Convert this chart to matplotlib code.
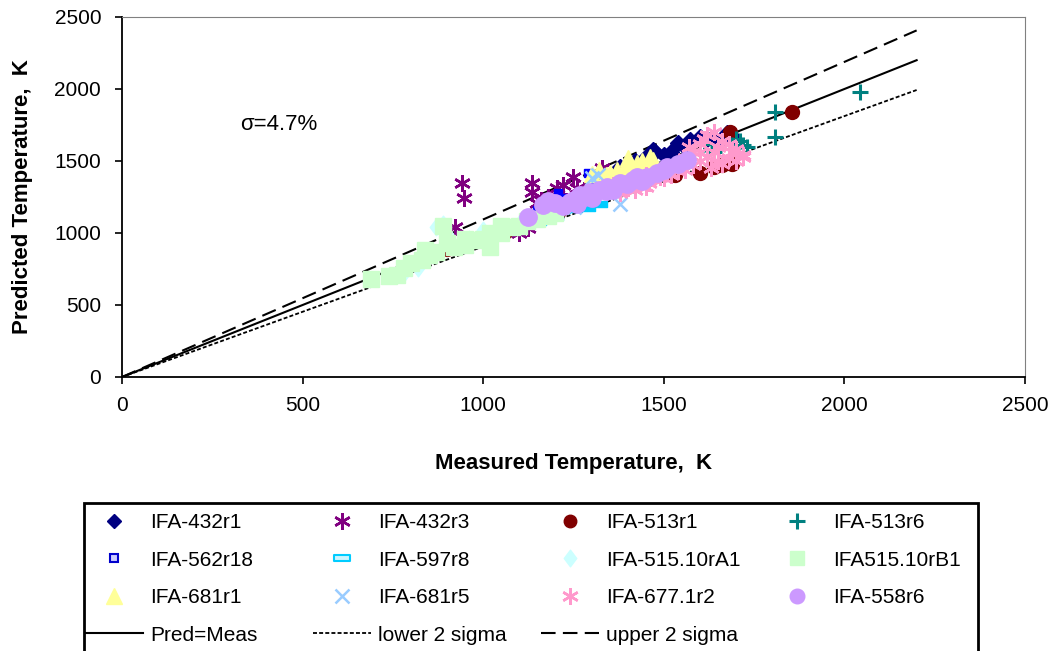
import matplotlib
matplotlib.use("Agg")
import matplotlib.pyplot as plt
from matplotlib.lines import Line2D
from matplotlib.patches import Rectangle
from matplotlib.path import Path

plt.rcParams['font.family'] = ['Liberation Sans', 'DejaVu Sans']

# ---------------- data (measured K, predicted K) ----------------
ifa432r1_x = [1380, 1420, 1450, 1470, 1476, 1500, 1520, 1539, 1560, 1573, 1600, 1620, 1640, 1660, 1675, 1692]
ifa432r1_y = [1460, 1500, 1530, 1576, 1560, 1540, 1560, 1625, 1600, 1646, 1667, 1650, 1660, 1650, 1694, 1667]

ifa432r3_x = [941, 947, 922, 1124, 1135, 1135, 1149, 1180, 1204, 1221, 1249, 1280, 1329, 1160, 1200, 1230, 1260, 1100]
ifa432r3_y = [1347, 1243, 1042, 1035, 1347, 1285, 1208, 1250, 1313, 1333, 1389, 1300, 1451, 1230, 1200, 1220, 1310, 1000]

ifa513r1_x = [900, 1060, 1210, 1300, 1420, 1530, 1600, 1640, 1660, 1690, 1683, 1855]
ifa513r1_y = [890, 1010, 1150, 1250, 1330, 1400, 1420, 1460, 1470, 1480, 1700, 1840]

ifa513r6_x = [1450, 1560, 1610, 1640, 1650, 1690, 1700, 1700, 1710, 1720, 1730, 1808, 1808, 2043]
ifa513r6_y = [1420, 1500, 1620, 1560, 1600, 1610, 1650, 1600, 1640, 1610, 1600, 1840, 1667, 1979]

ifa562r18_x = [1149, 1170, 1180, 1199, 1207, 1220, 1290, 1310]
ifa562r18_y = [1160, 1150, 1190, 1208, 1278, 1240, 1417, 1354]

ifa597r8_x = [1140, 1152, 1166, 1170, 1200, 1218, 1250, 1287, 1320]
ifa597r8_y = [1080, 1076, 1090, 1100, 1110, 1160, 1170, 1174, 1200]

ifa515rA1_x = [780, 820, 870, 889, 900, 960, 1000, 1060, 1100]
ifa515rA1_y = [720, 760, 1040, 1060, 990, 960, 1020, 1040, 1060]

ifa515rB1_x = [690, 740, 760, 780, 800, 830, 840, 850, 870, 889, 900, 920, 950, 950, 980,
               1000, 1020, 1020, 1050, 1050, 1080, 1100, 1120, 1150, 1180, 1200]
ifa515rB1_y = [680, 700, 710, 760, 790, 810, 880, 850, 870, 1049, 930, 900, 920, 960, 950,
               960, 1000, 900, 1000, 1050, 1040, 1050, 1080, 1100, 1120, 1140]

ifa681r1_x = [1300, 1320, 1340, 1351, 1370, 1390, 1410, 1426, 1440, 1462, 1470, 1400]
ifa681r1_y = [1410, 1440, 1400, 1420, 1437, 1450, 1470, 1486, 1500, 1528, 1510, 1520]

ifa681r5_x = [1250, 1300, 1318, 1380]
ifa681r5_y = [1180, 1380, 1403, 1200]

ifa677r2_x = [1360, 1380, 1380, 1400, 1400, 1420, 1420, 1430, 1440, 1450, 1450, 1460, 1460, 1480,
              1490, 1500, 1500, 1520, 1520, 1540, 1540, 1560, 1560, 1570, 1580, 1580, 1600, 1600,
              1600, 1610, 1620, 1620, 1630, 1640, 1640, 1650, 1650, 1660, 1660, 1680, 1680, 1690,
              1700, 1700, 1720, 1720]
ifa677r2_y = [1330, 1300, 1280, 1340, 1310, 1350, 1300, 1340, 1380, 1320, 1400, 1370, 1350, 1400,
              1390, 1380, 1440, 1420, 1400, 1430, 1480, 1440, 1520, 1600, 1470, 1560, 1500, 1560,
              1620, 1650, 1530, 1680, 1450, 1560, 1700, 1600, 1500, 1640, 1480, 1620, 1520, 1560,
              1580, 1500, 1540, 1530]

ifa558r6_x = [1124, 1166, 1180, 1200, 1220, 1240, 1250, 1260, 1268, 1280, 1296, 1300, 1320, 1340,
              1343, 1360, 1379, 1398, 1415, 1426, 1440, 1453, 1480, 1500, 1509, 1540, 1564]
ifa558r6_y = [1111, 1194, 1220, 1210, 1190, 1215, 1230, 1200, 1264, 1250, 1285, 1240, 1300, 1290,
              1319, 1300, 1347, 1340, 1368, 1389, 1360, 1389, 1420, 1440, 1458, 1480, 1507]

line_x = [0, 2200]
pred_meas_y = [0, 2200]
lower_y = [0, 1993]
upper_y = [0, 2407]

# ---------------- figure ----------------
W, H = 1055, 651
fig = plt.figure(figsize=(W/100, H/100), dpi=100)
ax = fig.add_axes([122/W, 1-377/H, (1025-122)/W, (377-17)/H])

rect_marker = Path([(-1, -0.45), (1, -0.45), (1, 0.45), (-1, 0.45), (-1, -0.45)],
                   [Path.MOVETO, Path.LINETO, Path.LINETO, Path.LINETO, Path.CLOSEPOLY])
tall_diamond = Path([(0, -1), (0.75, 0), (0, 1), (-0.75, 0), (0, -1)],
                    [Path.MOVETO, Path.LINETO, Path.LINETO, Path.LINETO, Path.CLOSEPOLY])
aster = (6, 2, 0)

series = [
    ("IFA-432r1", ifa432r1_x, ifa432r1_y, dict(marker='D', ms=8, color='#000080', mec='#000080')),
    ("IFA-432r3", ifa432r3_x, ifa432r3_y, dict(marker=aster, ms=12, color='#800080', mec='#800080', mew=1.8)),
    ("IFA-513r1", ifa513r1_x, ifa513r1_y, dict(marker='o', ms=10, color='#800000', mec='#800000')),
    ("IFA-513r6", ifa513r6_x, ifa513r6_y, dict(marker='+', ms=11, color='#008080', mec='#008080', mew=2.2)),
    ("IFA-562r18", ifa562r18_x, ifa562r18_y, dict(marker='s', ms=6, color='#0000FF', mfc='#0000FF', mec='#0000FF')),
    ("IFA-597r8", ifa597r8_x, ifa597r8_y, dict(marker=rect_marker, ms=11, color='#00CCFF', mfc='#00CCFF', mec='#00CCFF')),
    ("IFA-515.10rA1", ifa515rA1_x, ifa515rA1_y, dict(marker=tall_diamond, ms=12, color='#CCFFFF', mec='#CCFFFF')),
    ("IFA515.10rB1", ifa515rB1_x, ifa515rB1_y, dict(marker='s', ms=11, color='#CCFFCC', mec='#CCFFCC')),
    ("IFA-681r1", ifa681r1_x, ifa681r1_y, dict(marker='^', ms=11, color='#FFFF99', mec='#FFFF99')),
    ("IFA-681r5", ifa681r5_x, ifa681r5_y, dict(marker='x', ms=10, color='#99CCFF', mec='#99CCFF', mew=1.8)),
    ("IFA-677.1r2", ifa677r2_x, ifa677r2_y, dict(marker=aster, ms=12, color='#FF99CC', mec='#FF99CC', mew=1.8)),
    ("IFA-558r6", ifa558r6_x, ifa558r6_y, dict(marker='o', ms=12.5, color='#CC99FF', mec='#CC99FF')),
]
legend_style = {
    "IFA-432r1": dict(marker='D', ms=7, color='#000080', mec='#000080'),
    "IFA-513r1": dict(marker='o', ms=9, color='#800000', mec='#800000'),
    "IFA-562r18": dict(marker='s', ms=6, color='#0000FF', mfc='#CCCCFF', mec='#0000CC', mew=1.5),
    "IFA-597r8": dict(marker=rect_marker, ms=11, color='#00CCFF', mfc='#CCF5FF', mec='#00CCFF', mew=1.5),
    "IFA515.10rB1": dict(marker='s', ms=10, color='#CCFFCC', mec='#CCFFCC'),
    "IFA-558r6": dict(marker='o', ms=10.5, color='#CC99FF', mec='#CC99FF'),
}

line_styles = [
    ('Pred=Meas', pred_meas_y, dict(color='black', lw=1.5)),
    ('lower 2 sigma', lower_y, dict(color='black', lw=1.3, dashes=(2.2, 1.2))),
    ('upper 2 sigma', upper_y, dict(color='black', lw=1.5, dashes=(7, 3.5))),
]
line_handles = []
for name, ys, st in line_styles:
    ax.plot(line_x, ys, zorder=2, **st)
    line_handles.append(Line2D([], [], **st))

handles = []
for i, (name, xs, ys, st) in enumerate(series):
    ax.plot(xs, ys, linestyle='none', zorder=3 + i, **st)
    handles.append(Line2D([], [], linestyle='none', **legend_style.get(name, st)))

ax.set_xlim(0, 2500)
ax.set_ylim(0, 2500)
ax.set_xticks([0, 500, 1000, 1500, 2000, 2500])
ax.set_yticks([0, 500, 1000, 1500, 2000, 2500])
ax.tick_params(axis='both', direction='out', length=5, width=1.2, labelsize=15, color='black')
ax.tick_params(axis='x', pad=9)
ax.tick_params(axis='y', pad=10)
for s in ['top', 'right']:
    ax.spines[s].set_color('#808080')
for s in ['left', 'bottom']:
    ax.spines[s].set_color('black')
    ax.spines[s].set_linewidth(1.3)

ax.set_xlabel('Measured Temperature,  K', fontsize=16, fontweight='bold', labelpad=27)
ax.set_ylabel('Predicted Temperature,  K', fontsize=16, fontweight='bold', labelpad=15)

ax.text(327, 1750, 'σ=4.7%', fontsize=16, va='center', ha='left')

# ---------------- legend ----------------
fig.patches.append(Rectangle((84/W, -0.05), (978-84)/W, 1-503/H+0.05,
                             transform=fig.transFigure, fill=False, lw=2,
                             edgecolor='black', clip_on=False))

text_x = [150, 378, 606, 833]
fs = 15
em = fs * 100 / 72
hl_px, pad_px = 58, 7
labels = [s[0] for s in series]
for c in range(4):
    hs = [handles[c], handles[c + 4], handles[c + 8]]
    ls = [labels[c], labels[c + 4], labels[c + 8]]
    if c < 3:
        hs.append(line_handles[c])
        ls.append(line_styles[c][0])
    left = text_x[c] - pad_px - hl_px
    fig.legend(hs, ls, loc='upper left', bbox_to_anchor=(left/W, 1-513/H),
               frameon=False, fontsize=fs, handlelength=hl_px/em, handletextpad=pad_px/em,
               labelspacing=0.89, borderpad=0, borderaxespad=0)

fig.savefig('out.png', dpi=100)
